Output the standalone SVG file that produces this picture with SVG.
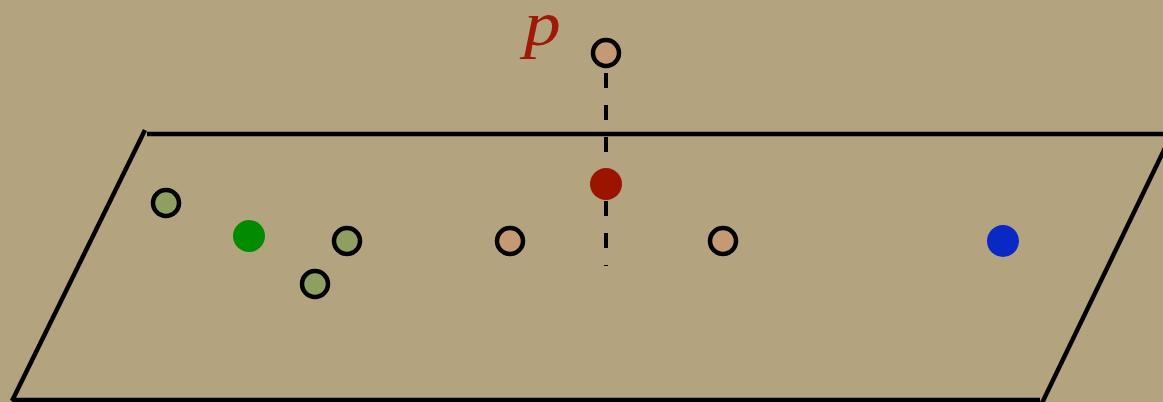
<svg xmlns="http://www.w3.org/2000/svg" width="1163" height="402" viewBox="0 0 1163 402">
<style>
.edge{stroke:#000;stroke-width:4.5;fill:none}
.dash{stroke:#000;stroke-width:4;fill:none;stroke-dasharray:15 17}
.ring{stroke:#000;stroke-width:4.5}
.peach{fill:#c49a74}
.olive{fill:#8f9f62}
.label{font-family:"Liberation Serif",serif;font-style:italic;font-size:64px;fill:#a01808}
</style>
<rect width="1163" height="402" fill="#b3a47f"/>
<g id="plane">
<line class="edge" x1="147" y1="134" x2="1163" y2="134"/>
<line class="edge" x1="145" y1="130" x2="12" y2="401"/>
<line class="edge" x1="12" y1="400" x2="1040" y2="400"/>
<line class="edge" x1="1165" y1="148" x2="1042" y2="403"/>
</g>
<g id="connectors">
<line class="dash" x1="606" y1="73" x2="606" y2="266"/>
</g>
<g id="p-point"><circle class="ring peach" cx="606" cy="53" r="13"/></g>
<g id="p-label"><text class="label" transform="translate(524 45) scale(1.15 1)" x="0" y="0">p</text></g>
<g id="projection"><circle cx="606" cy="184" r="16" fill="#9a1400"/></g>
<g id="g1"><circle class="ring olive" cx="166" cy="203" r="13"/></g>
<g id="g2"><circle class="ring olive" cx="347" cy="241" r="13"/></g>
<g id="g3"><circle class="ring olive" cx="315" cy="284" r="13"/></g>
<g id="green-center"><circle cx="249" cy="236" r="16" fill="#008c00"/></g>
<g id="b1"><circle class="ring peach" cx="510" cy="241" r="13"/></g>
<g id="b2"><circle class="ring peach" cx="723" cy="241" r="13"/></g>
<g id="blue-center"><circle cx="1003" cy="241" r="16" fill="#0a28c4"/></g>
</svg>
